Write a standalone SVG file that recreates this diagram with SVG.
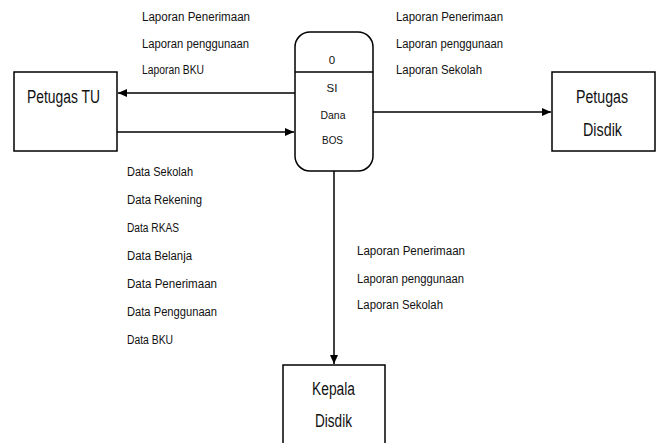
<svg xmlns="http://www.w3.org/2000/svg" width="661" height="443" viewBox="0 0 661 443">
<style>
.box{fill:#fff;stroke:#000;stroke-width:1.5}
.ln{fill:none;stroke:#000;stroke-width:1.5}
.lbl{font-family:"Liberation Sans",Arial,sans-serif;font-size:12px;fill:#111}
.nm{font-family:"Liberation Sans",Arial,sans-serif;font-size:18px;fill:#111;text-anchor:middle}
.pn{font-family:"Liberation Sans",Arial,sans-serif;font-size:11.5px;fill:#111;text-anchor:middle}
</style>
<defs>
<marker id="ah" markerWidth="10" markerHeight="10" refX="9" refY="5" orient="auto" markerUnits="userSpaceOnUse">
<path d="M0,1 L9,5 L0,9 Z" fill="#000"/>
</marker>
</defs>
<rect width="661" height="443" fill="#fff"/>
<g id="connectors">
<line class="ln" x1="295" y1="93" x2="118" y2="93" marker-end="url(#ah)"/>
<line class="ln" x1="117" y1="132" x2="294" y2="132" marker-end="url(#ah)"/>
<line class="ln" x1="373" y1="112" x2="551" y2="112" marker-end="url(#ah)"/>
<line class="ln" x1="334" y1="171" x2="334" y2="364" marker-end="url(#ah)"/>
</g>
<g id="process-0">
<rect class="box" x="295" y="32" width="78" height="139" rx="15" ry="15"/>
<line class="ln" x1="295" y1="72" x2="373" y2="72"/>
<text class="pn" x="332" y="64">0</text>
<text class="pn" x="332" y="92">SI</text>
<text class="pn" x="333" y="119" textLength="25" lengthAdjust="spacingAndGlyphs">Dana</text>
<text class="pn" x="332.5" y="144" textLength="21" lengthAdjust="spacingAndGlyphs">BOS</text>
</g>
<g id="petugas-tu">
<rect class="box" x="14" y="72" width="103" height="79"/>
<text class="nm" x="63.5" y="103" textLength="73" lengthAdjust="spacingAndGlyphs">Petugas TU</text>
</g>
<g id="petugas-disdik">
<rect class="box" x="552" y="72" width="103" height="79"/>
<text class="nm" x="602" y="103" textLength="52" lengthAdjust="spacingAndGlyphs">Petugas</text>
<text class="nm" x="602.5" y="136" textLength="39" lengthAdjust="spacingAndGlyphs">Disdik</text>
</g>
<g id="kepala-disdik">
<rect class="box" x="283" y="365" width="102" height="90"/>
<text class="nm" x="333.5" y="395" textLength="43" lengthAdjust="spacingAndGlyphs">Kepala</text>
<text class="nm" x="333.5" y="427" textLength="37" lengthAdjust="spacingAndGlyphs">Disdik</text>
</g>
<g id="labels">
<text class="lbl" x="142" y="21" textLength="108" lengthAdjust="spacingAndGlyphs">Laporan Penerimaan</text>
<text class="lbl" x="142" y="48" textLength="107" lengthAdjust="spacingAndGlyphs">Laporan penggunaan</text>
<text class="lbl" x="142" y="74" textLength="62" lengthAdjust="spacingAndGlyphs">Laporan BKU</text>
<text class="lbl" x="396" y="21" textLength="107" lengthAdjust="spacingAndGlyphs">Laporan Penerimaan</text>
<text class="lbl" x="396" y="48" textLength="107" lengthAdjust="spacingAndGlyphs">Laporan penggunaan</text>
<text class="lbl" x="396" y="74" textLength="86" lengthAdjust="spacingAndGlyphs">Laporan Sekolah</text>
<text class="lbl" x="127" y="176" textLength="66" lengthAdjust="spacingAndGlyphs">Data Sekolah</text>
<text class="lbl" x="127" y="204" textLength="75" lengthAdjust="spacingAndGlyphs">Data Rekening</text>
<text class="lbl" x="127" y="232" textLength="52" lengthAdjust="spacingAndGlyphs">Data RKAS</text>
<text class="lbl" x="127" y="260" textLength="65" lengthAdjust="spacingAndGlyphs">Data Belanja</text>
<text class="lbl" x="127" y="288" textLength="90" lengthAdjust="spacingAndGlyphs">Data Penerimaan</text>
<text class="lbl" x="127" y="316" textLength="90" lengthAdjust="spacingAndGlyphs">Data Penggunaan</text>
<text class="lbl" x="127" y="344" textLength="46" lengthAdjust="spacingAndGlyphs">Data BKU</text>
<text class="lbl" x="357" y="255" textLength="108" lengthAdjust="spacingAndGlyphs">Laporan Penerimaan</text>
<text class="lbl" x="357" y="283" textLength="107" lengthAdjust="spacingAndGlyphs">Laporan penggunaan</text>
<text class="lbl" x="357" y="309" textLength="86" lengthAdjust="spacingAndGlyphs">Laporan Sekolah</text>
</g>
</svg>
